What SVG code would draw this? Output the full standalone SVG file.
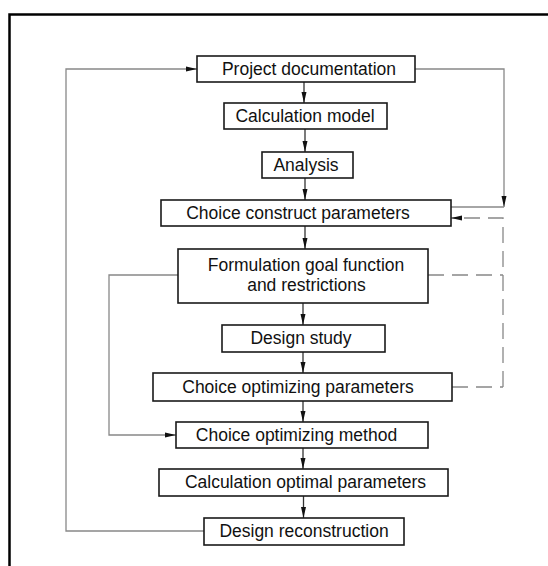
<svg xmlns="http://www.w3.org/2000/svg" width="548" height="566" viewBox="0 0 548 566">
<defs>
<marker id="ah" markerUnits="userSpaceOnUse" markerWidth="12" markerHeight="8" refX="11" refY="3" orient="auto">
<path d="M0,0.5 L11,3 L0,5.5 Z" fill="#111"/>
</marker>
<style>
.box{fill:#fff;stroke:#1a1a1a;stroke-width:1.6}
.t{font-family:"Liberation Sans",Arial,sans-serif;font-size:17.5px;fill:#111;text-anchor:middle}
.c{fill:none;stroke:#888;stroke-width:1.3}
.v{fill:none;stroke:#333;stroke-width:1.3}
.d{fill:none;stroke:#888;stroke-width:1.3;stroke-dasharray:16 8}
</style>
</defs>
<rect width="548" height="566" fill="#fff"/>
<path d="M9.5,566 V14.5 H548" fill="none" stroke="#000" stroke-width="2.5"/>
<g id="connectors">
<line class="v" x1="304" y1="82" x2="304" y2="103" marker-end="url(#ah)"/>
<line class="v" x1="305" y1="129" x2="305" y2="152" marker-end="url(#ah)"/>
<line class="v" x1="305" y1="178" x2="305" y2="200" marker-end="url(#ah)"/>
<line class="v" x1="305" y1="226" x2="305" y2="249" marker-end="url(#ah)"/>
<line class="v" x1="303" y1="303" x2="303" y2="325" marker-end="url(#ah)"/>
<line class="v" x1="303" y1="352" x2="303" y2="373" marker-end="url(#ah)"/>
<line class="v" x1="303" y1="401" x2="303" y2="422" marker-end="url(#ah)"/>
<line class="v" x1="303" y1="448" x2="303" y2="469" marker-end="url(#ah)"/>
<line class="v" x1="303.5" y1="496" x2="303.5" y2="518" marker-end="url(#ah)"/>
<path class="c" d="M204,531 H66 V69 H197" marker-end="url(#ah)"/>
<path class="c" d="M415,69 H504 V207" marker-end="url(#ah)"/>
<path class="c" d="M451,207 H504"/>
<path class="c" d="M178,275 H109 V435 H176" marker-end="url(#ah)"/>
<path class="d" d="M503,387 V218 H451" marker-end="url(#ah)"/>
<path class="d" d="M428,275 H503"/>
<path class="d" d="M452,387 H503"/>
</g>
<g id="n1"><rect class="box" x="197" y="56" width="218" height="26"/><text class="t" x="309" y="75">Project documentation</text></g>
<g id="n2"><rect class="box" x="224" y="103" width="163" height="26"/><text class="t" x="305" y="122">Calculation model</text></g>
<g id="n3"><rect class="box" x="262" y="152" width="91" height="26"/><text class="t" x="306" y="171">Analysis</text></g>
<g id="n4"><rect class="box" x="161" y="200" width="290" height="26"/><text class="t" x="298" y="219">Choice construct parameters</text></g>
<g id="n5"><rect class="box" x="178" y="249" width="250" height="54"/><text class="t" x="306" y="271">Formulation goal function</text><text class="t" x="306.5" y="291">and restrictions</text></g>
<g id="n6"><rect class="box" x="222" y="325" width="163" height="27"/><text class="t" x="301" y="344">Design study</text></g>
<g id="n7"><rect class="box" x="153" y="373" width="299" height="28"/><text class="t" x="298" y="393">Choice optimizing parameters</text></g>
<g id="n8"><rect class="box" x="176" y="422" width="252" height="26"/><text class="t" x="296.5" y="441">Choice optimizing method</text></g>
<g id="n9"><rect class="box" x="159" y="469" width="289" height="27"/><text class="t" x="305.5" y="488">Calculation optimal parameters</text></g>
<g id="n10"><rect class="box" x="204" y="518" width="200" height="27"/><text class="t" x="304" y="537">Design reconstruction</text></g>
</svg>
